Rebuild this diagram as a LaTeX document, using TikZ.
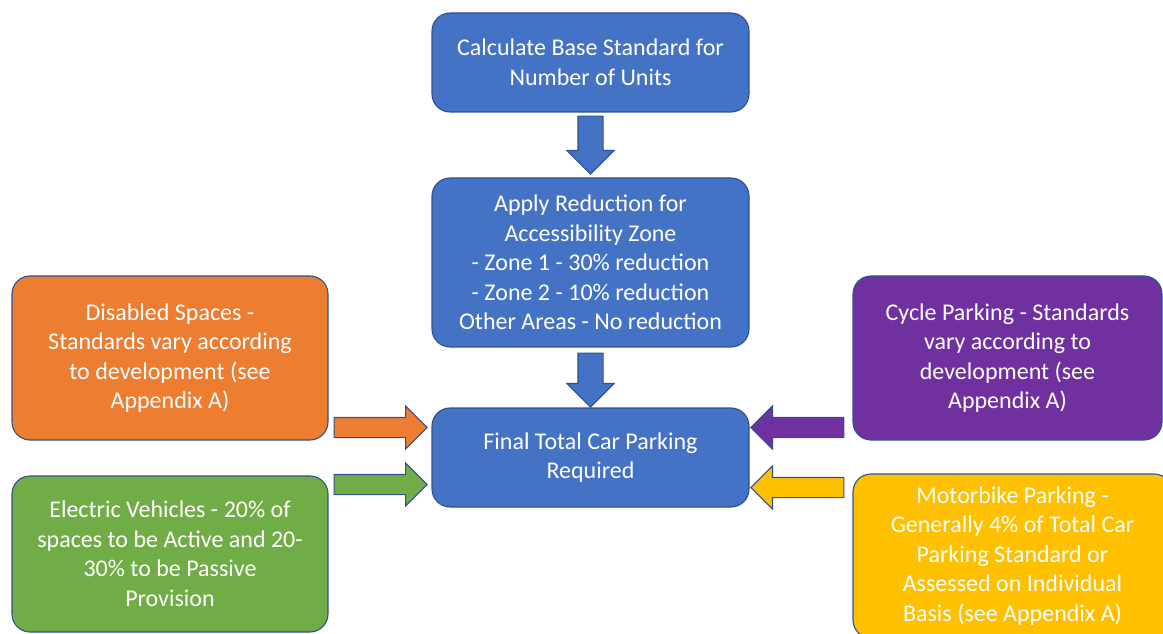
\documentclass[tikz,border=0pt]{standalone}
\usepackage{fontspec}
\setmainfont{Carlito}
\usetikzlibrary{shapes.arrows,calc}
\definecolor{bblue}{HTML}{4472C4}
\definecolor{bedge}{HTML}{2F528F}
\definecolor{borange}{HTML}{ED7D31}
\definecolor{bgreen}{HTML}{70AD47}
\definecolor{bpurple}{HTML}{7030A0}
\definecolor{byellow}{HTML}{FFC000}
\tikzset{
 box/.style={draw=bedge, line width=1.1pt, rounded corners=18pt, text=white, align=center, inner sep=0pt, font=\fontsize{24}{29.5}\selectfont},
 barrow/.style={single arrow, draw=bedge, line width=1.1pt, single arrow head indent=0pt, anchor=tail},
 downarrow/.style={barrow, fill=bblue, inner sep=12pt, single arrow head extend=11pt, shape border rotate=270},
 rarrow/.style={barrow, inner sep=9.5pt, single arrow head extend=11.5pt, minimum height=93pt},
 larrow/.style={rarrow, shape border rotate=180},
}
\begin{document}
\begin{tikzpicture}[x=1pt,y=1pt]
\useasboundingbox (0,0) rectangle (1163,633);
\clip (0,0) rectangle (1163,633);
\node[box, fill=bblue, minimum width=317pt, minimum height=99pt] (base) at (590.5,570.5) {Calculate Base Standard for\\Number of Units};
\node[box, fill=bblue, minimum width=317pt, minimum height=169pt] (mid) at (590.5,370.5) {Apply Reduction for\\Accessibility Zone\\- Zone 1 - 30\% reduction\\- Zone 2 - 10\% reduction\\Other Areas - No reduction};
\node[box, fill=bblue, minimum width=317pt, minimum height=99pt] (final) at (590.5,175.5) {Final Total Car Parking\\Required};
\node[box, fill=borange, minimum width=316pt, minimum height=164pt] (dis) at (170,275) {Disabled Spaces -\\Standards vary according\\to development (see\\Appendix A)};
\node[box, fill=bgreen, minimum width=316pt, minimum height=156pt] (ev) at (170,79) {Electric Vehicles - 20\% of\\spaces to be Active and 20-\\30\% to be Passive\\Provision};
\node[box, fill=bpurple, minimum width=309pt, minimum height=164pt] (cyc) at (1007.5,275) {Cycle Parking - Standards\\vary according to\\development (see\\Appendix A)};
\node[box, fill=byellow, minimum width=319pt, minimum height=164pt] (moto) at (1012.5,77) {Motorbike Parking -\\Generally 4\% of Total Car\\Parking Standard or\\Assessed on Individual\\Basis (see Appendix A)};
% vertical arrows
\node[downarrow, minimum height=58pt] (a1) at ($(base.south)+(0,-3)$) {};
\node[downarrow, minimum height=54pt] (a2) at ($(mid.south)+(0,-5)$) {};
% side arrows
\coordinate (hup) at ($(final.center)+(0,30)$);
\coordinate (hdl) at ($(final.center)+(0,-27)$);
\coordinate (hdr) at ($(final.center)+(0,-30)$);
\coordinate (ltail) at ($(dis.east)+(5,0)$);
\coordinate (rtail) at ($(cyc.west)+(-8,0)$);
\node[rarrow, fill=borange] (a3) at (ltail |- hup) {};
\node[rarrow, fill=bgreen] (a4) at (ltail |- hdl) {};
\node[larrow, fill=bpurple] (a5) at (rtail |- hup) {};
\node[larrow, fill=byellow] (a6) at (rtail |- hdr) {};
\end{tikzpicture}
\end{document}
